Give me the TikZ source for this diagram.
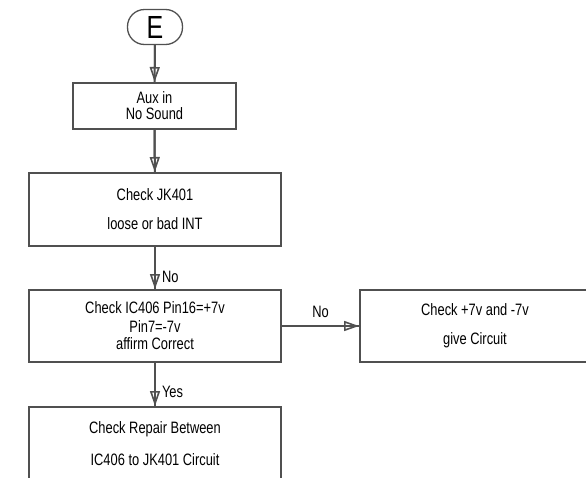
\documentclass[tikz,border=0pt]{standalone}
\usepackage{fontspec}
\setmainfont{Liberation Sans}[FakeStretch=0.78]
\definecolor{flowline}{RGB}{80, 80, 80}
\usetikzlibrary{arrows.meta}
\tikzset{
    x=1pt, y=-1pt,
    procbox/.style={draw=flowline, line width=2pt, align=center, inner sep=0pt,
        font=\fontsize{16.5}{17}\selectfont},
    terminal/.style={draw=flowline, line width=1.3pt, rounded corners=17pt,
        minimum width=55pt, minimum height=35pt, inner sep=0pt,
        font=\fontsize{32}{32}\selectfont},
    flow/.style={draw=flowline, line width=2pt,
        -{Triangle[open, length=15pt, width=10pt, line width=1.6pt]},
        postaction={draw=flowline, line width=2pt, arrows=-}},
    lbl/.style={font=\fontsize{16.5}{17}\selectfont, inner sep=0pt},
}
\begin{document}
\begin{tikzpicture}
    \clip (0, 0) rectangle (586, 477);
    \node[terminal] (start) at (155, 27) {E};
    \node[procbox, minimum width=163pt, minimum height=46pt] (aux) at (154.5, 106)
        {Aux in\\[-1pt] No Sound};
    \node[procbox, minimum width=252pt, minimum height=73pt] (jack) at (155, 209.5)
        {Check JK401\\[12pt] loose or bad INT};
    \node[procbox, minimum width=252pt, minimum height=72pt] (volt) at (155, 326)
        {Check IC406 Pin16=+7v\\[2pt] Pin7=-7v\\ affirm Correct};
    \node[procbox, minimum width=230pt, minimum height=72pt] (supply) at (475, 326)
        {Check +7v and -7v\\[12pt] give Circuit};
    \node[procbox, minimum width=252pt, minimum height=74pt] (repair) at (155, 444)
        {Check Repair Between\\[15pt] IC406 to JK401 Circuit};
    \draw[flow] (start) -- (aux);
    \draw[flow] (aux) -- (jack);
    \draw[flow] (jack) -- (volt) node[lbl, pos=0.7, right=6pt] {No};
    \draw[flow] (volt) -- (repair) node[lbl, pos=0.68, right=6pt] {Yes};
    \draw[flow] (volt) -- (supply) node[lbl, midway, above=7pt] {No};
\end{tikzpicture}
\end{document}
